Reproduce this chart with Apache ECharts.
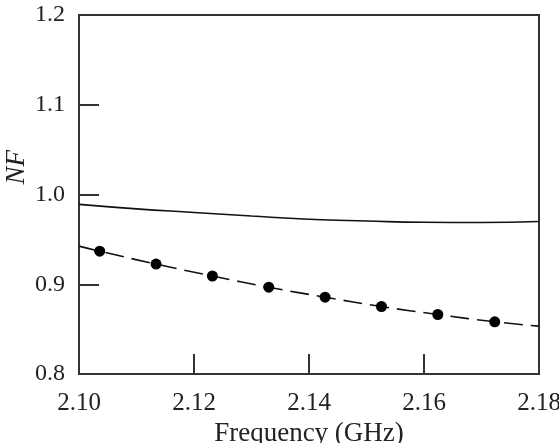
<!doctype html>
<html>
    <head>
        <meta charset="utf-8">
        <title>NF vs Frequency</title>
        <style>
            html, body { margin: 0; padding: 0; background: #fff; }
            #main { width: 559px; height: 443px; }
        </style>
    </head>
    <body>
        <div id="main"></div>
        <script src="https://cdn.jsdelivr.net/npm/echarts@6/dist/echarts.min.js"></script>
        <script>
            // solid curve
            var solidFreq = [2.100, 2.110, 2.120, 2.130, 2.140, 2.150, 2.160, 2.170, 2.180];
            var solidNF   = [0.989, 0.984, 0.980, 0.976, 0.9725, 0.9705, 0.969, 0.9688, 0.970];

            // dashed curve with dot markers
            var markerFreq = [2.1036, 2.1134, 2.1232, 2.1330, 2.1428, 2.1526, 2.1624, 2.1723];
            var markerNF   = [0.9368, 0.9225, 0.9092, 0.8967, 0.8856, 0.8752, 0.8663, 0.8582];
            var dashStart = [2.100, 0.9425];
            var dashEnd   = [2.180, 0.8533];

            var font = 'Liberation Serif';
            var chart = echarts.init(document.getElementById('main'));

            var dashData = [{ value: dashStart, symbol: 'none' }];
            markerFreq.forEach(function (f, i) {
                dashData.push({ value: [f, markerNF[i]] });
            });
            dashData.push({ value: dashEnd, symbol: 'none' });

            chart.setOption({
                animation: false,
                grid: {
                    left: 79, right: 20, top: 15, bottom: 69,
                    outerBoundsMode: 'none',
                    containLabel: false,
                    show: true,
                    borderColor: '#333',
                    borderWidth: 2
                },
                xAxis: {
                    type: 'value',
                    min: 2.10, max: 2.18, interval: 0.02,
                    name: 'Frequency (GHz)',
                    nameLocation: 'middle',
                    nameGap: 44,
                    nameTextStyle: { fontFamily: font, fontSize: 27, color: '#222' },
                    axisLine: { lineStyle: { color: '#333', width: 2 } },
                    axisTick: { inside: true, length: 20, lineStyle: { color: '#333', width: 2 } },
                    axisLabel: {
                        fontFamily: font, fontSize: 25, color: '#222', margin: 17,
                        formatter: function (v) { return v.toFixed(2); }
                    },
                    splitLine: { show: false }
                },
                yAxis: {
                    type: 'value',
                    min: 0.8, max: 1.2, interval: 0.1,
                    axisLine: { show: true, lineStyle: { color: '#333', width: 2 } },
                    axisTick: { show: true, inside: true, length: 20, lineStyle: { color: '#333', width: 2 } },
                    axisLabel: {
                        fontFamily: font, fontSize: 24, color: '#222', margin: 14,
                        formatter: function (v) { return v.toFixed(1); }
                    },
                    splitLine: { show: false }
                },
                graphic: [{
                    type: 'text',
                    left: 3,
                    top: 150,
                    rotation: Math.PI / 2,
                    style: {
                        text: 'NF',
                        font: 'italic 27px "Liberation Serif"',
                        fill: '#222'
                    }
                }],
                series: [{
                    type: 'line',
                    data: solidFreq.map(function (f, i) { return [f, solidNF[i]]; }),
                    smooth: true,
                    showSymbol: false,
                    lineStyle: { color: '#111', width: 1.6 }
                }, {
                    type: 'line',
                    data: dashData,
                    smooth: true,
                    symbol: 'circle',
                    symbolSize: 11,
                    itemStyle: { color: '#000' },
                    lineStyle: { color: '#111', width: 1.6, type: [19, 8] }
                }]
            });

            window.addEventListener('resize', function () {
                chart.resize();
            });
        </script>
    </body>
</html>
